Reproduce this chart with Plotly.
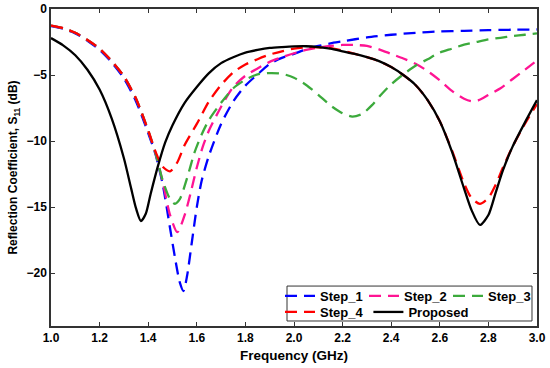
import plotly.graph_objects as go

# ---- data ----
f_step1 = [1.0, 1.05, 1.1, 1.15, 1.2, 1.25, 1.3, 1.35, 1.4, 1.43, 1.46, 1.49, 1.51, 1.53, 1.545, 1.56, 1.58, 1.6,
           1.62, 1.65, 1.7, 1.75, 1.8, 1.85, 1.9, 1.95, 2.0, 2.05, 2.1, 2.15, 2.2, 2.3, 2.4, 2.5, 2.6, 2.7,
           2.8, 2.9, 3.0]
s_step1 = [-1.3, -1.5, -1.85, -2.4, -3.1, -4.05, -5.25, -7.0, -9.4, -11.0, -13.3, -16.6, -18.8, -20.7, -21.35, -20.2, -17.6, -15.0,
           -13.0, -11.1, -8.7, -7.0, -5.8, -4.95, -4.15, -3.7, -3.4, -3.05, -2.8, -2.6, -2.45, -2.15, -1.95, -1.8, -1.7, -1.65,
           -1.6, -1.57, -1.55]

f_step2 = [1.0, 1.05, 1.1, 1.15, 1.2, 1.25, 1.3, 1.35, 1.4, 1.43, 1.46, 1.49, 1.52, 1.55, 1.575, 1.6, 1.625, 1.65,
           1.7, 1.75, 1.8, 1.85, 1.9, 1.95, 2.0, 2.05, 2.1, 2.15, 2.2, 2.25, 2.3, 2.35, 2.4, 2.45, 2.5, 2.55,
           2.6, 2.65, 2.7, 2.73, 2.76, 2.8, 2.85, 2.9, 2.95, 3.0]
s_step2 = [-1.25, -1.45, -1.8, -2.35, -3.0, -3.95, -5.1, -6.8, -9.2, -10.9, -13.1, -15.6, -16.9, -15.6, -13.9, -12.0, -10.4, -9.2,
           -7.4, -5.9, -5.05, -4.5, -4.0, -3.65, -3.35, -3.1, -2.92, -2.8, -2.72, -2.72, -2.8, -3.05, -3.4, -3.75, -4.15, -4.7,
           -5.4, -6.2, -6.8, -6.98, -6.9, -6.5, -6.0, -5.3, -4.6, -3.9]

f_step3 = [1.0, 1.05, 1.1, 1.15, 1.2, 1.25, 1.3, 1.35, 1.4, 1.43, 1.46, 1.49, 1.51, 1.53, 1.56, 1.59, 1.62, 1.65,
           1.7, 1.75, 1.8, 1.85, 1.9, 1.95, 2.0, 2.05, 2.1, 2.15, 2.2, 2.24, 2.28, 2.32, 2.36, 2.4, 2.45, 2.5,
           2.55, 2.6, 2.65, 2.7, 2.75, 2.8, 2.85, 2.9, 2.95, 3.0]
s_step3 = [-1.25, -1.45, -1.8, -2.35, -3.0, -3.95, -5.1, -6.8, -9.2, -10.9, -13.0, -14.4, -14.75, -14.4, -12.8, -10.9, -9.5, -8.4,
           -7.1, -6.0, -5.35, -4.95, -4.85, -4.9, -5.2, -5.75, -6.5, -7.3, -7.9, -8.15, -7.95, -7.3, -6.45, -5.7, -4.95, -4.3,
           -3.8, -3.3, -3.0, -2.7, -2.5, -2.3, -2.18, -2.05, -1.95, -1.85]

f_step4 = [1.0, 1.05, 1.1, 1.15, 1.2, 1.25, 1.3, 1.35, 1.4, 1.43, 1.46, 1.49, 1.52, 1.55, 1.6, 1.65, 1.7, 1.75,
           1.8, 1.85, 1.9, 1.95, 2.0, 2.05, 2.1, 2.15, 2.2, 2.25, 2.3, 2.35, 2.4, 2.45, 2.5, 2.55, 2.6, 2.65,
           2.7, 2.73, 2.765, 2.8, 2.83, 2.86, 2.9, 2.95, 3.0]
s_step4 = [-1.25, -1.45, -1.8, -2.35, -3.0, -3.95, -5.1, -6.8, -9.2, -10.8, -11.95, -12.3, -11.6, -10.3, -8.7, -7.0, -5.75, -4.8,
           -4.2, -3.8, -3.45, -3.2, -3.0, -2.9, -2.9, -2.97, -3.15, -3.4, -3.65, -3.95, -4.4, -5.0, -5.75, -6.9, -8.5, -10.7,
           -13.2, -14.3, -14.75, -14.3, -13.3, -12.0, -10.4, -8.7, -7.2]

f_prop = [1.0, 1.05, 1.1, 1.15, 1.2, 1.25, 1.3, 1.33, 1.35, 1.37, 1.39, 1.41, 1.44, 1.47, 1.5, 1.55, 1.6, 1.65,
          1.7, 1.75, 1.8, 1.85, 1.9, 1.95, 2.0, 2.05, 2.1, 2.15, 2.2, 2.25, 2.3, 2.35, 2.4, 2.45, 2.5, 2.55,
          2.6, 2.65, 2.7, 2.73, 2.765, 2.8, 2.83, 2.86, 2.9, 2.95, 3.0]
s_prop = [-2.2, -2.75, -3.5, -4.6, -6.1, -8.3, -11.3, -13.6, -15.1, -16.05, -15.5, -14.0, -11.9, -10.1, -8.8, -7.1, -5.9, -4.85,
          -4.1, -3.65, -3.3, -3.1, -2.95, -2.88, -2.83, -2.82, -2.88, -3.0, -3.2, -3.4, -3.65, -3.95, -4.4, -5.0, -5.75, -6.9,
          -8.5, -10.8, -13.6, -15.2, -16.35, -15.6, -13.9, -12.2, -10.4, -8.6, -6.9]

series = [
    ("Step_1", f_step1, s_step1, "#0000FF", "12px,7px", "legend"),
    ("Step_2", f_step2, s_step2, "#FF1493", "12px,7px", "legend"),
    ("Step_3", f_step3, s_step3, "#3CAA3C", "12px,7px", "legend"),
    ("Step_4", f_step4, s_step4, "#FF0000", "12px,7px", "legend2"),
    ("Proposed", f_prop, s_prop, "#000000", "solid", "legend2"),
]

x_ticks = [1.0, 1.2, 1.4, 1.6, 1.8, 2.0, 2.2, 2.4, 2.6, 2.8, 3.0]
x_ticklabels = ["1.0", "1.2", "1.4", "1.6", "1.8", "2.0", "2.2", "2.4", "2.6", "2.8", "3.0"]
y_ticks = [0, -5, -10, -15, -20]

fig = go.Figure()
for name, fx, sy, color, dash, lg in series:
    fig.add_trace(go.Scatter(
        x=fx, y=sy, mode="lines", name=name, legend=lg,
        line=dict(color=color, width=2.3, dash=dash, shape="spline", smoothing=0.7),
    ))

FONT = "Arial, Liberation Sans, sans-serif"
legend_common = dict(
    orientation="h", xanchor="left", yanchor="middle",
    bgcolor="rgba(0,0,0,0)", borderwidth=0,
    font=dict(family=FONT, size=13, color="black", weight="bold"),
    itemwidth=30,
)
fig.update_layout(
    width=550, height=368,
    margin=dict(l=51, r=13, t=9, b=42),
    paper_bgcolor="white", plot_bgcolor="white",
    font=dict(family=FONT, size=12, color="black"),
    showlegend=True,
    legend=dict(x=0.4712, y=0.0946, entrywidth=39, **legend_common),
    legend2=dict(x=0.4712, y=0.0442, **legend_common),
    shapes=[dict(type="rect", xref="paper", yref="paper",
                 x0=0.4856, x1=0.9897, y0=0.0158, y1=0.126,
                 line=dict(color="#333333", width=1), fillcolor="white", layer="above")],
)
fig.update_xaxes(
    range=[1.0, 3.0], tickvals=x_ticks, ticktext=x_ticklabels,
    ticks="inside", ticklen=4, tickcolor="#333333",
    showline=True, linecolor="#333333", linewidth=1.5, mirror="ticks",
    showgrid=False, zeroline=False, automargin=False,
    tickfont=dict(family=FONT, size=12, color="black", weight="bold"),
    title=dict(text="Frequency (GHz)", font=dict(family=FONT, size=13.5, color="black", weight="bold"), standoff=6),
)
fig.update_yaxes(
    range=[-24, 0], tickvals=y_ticks,
    ticks="inside", ticklen=4, tickcolor="#333333",
    showline=True, linecolor="#333333", linewidth=1.5, mirror="ticks",
    showgrid=False, zeroline=False, automargin=False,
    tickfont=dict(family=FONT, size=12, color="black", weight="bold"),
    title=dict(text="Reflection Coefficient, S<sub>11</sub> (dB)",
               font=dict(family=FONT, size=12, color="black", weight="bold"), standoff=6),
)

fig.write_html("out.html", config={"displayModeBar": False},
               post_script="document.body.style.margin='0';document.body.style.overflow='hidden';")
